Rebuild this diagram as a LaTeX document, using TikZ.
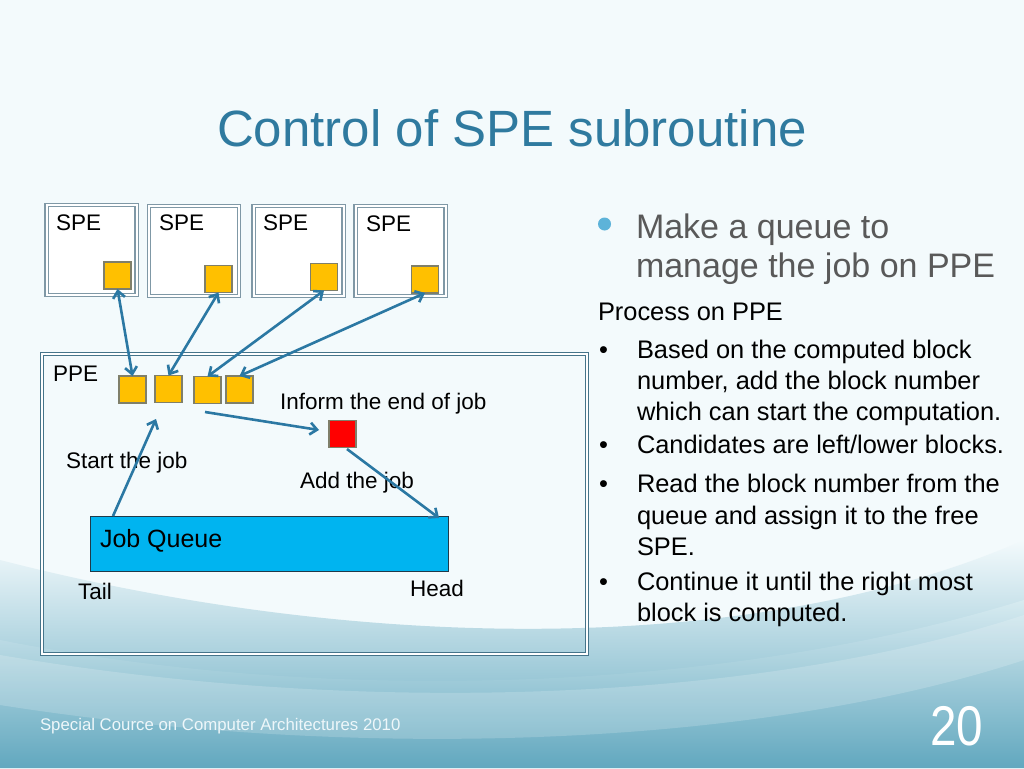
\documentclass[tikz,border=0pt]{standalone}
\usepackage{fontspec}
\setmainfont{Liberation Sans}
\usetikzlibrary{arrows.meta}
\definecolor{bgtop}{HTML}{F3FAFC}
\definecolor{bgmid}{HTML}{DCEEF3}
\definecolor{bgbot}{HTML}{62A8BF}
\definecolor{titleblue}{HTML}{2F7A9F}
\definecolor{arrowblue}{HTML}{2B78A3}
\definecolor{spedge}{HTML}{7F98A6}
\definecolor{ppeedge}{HTML}{45748A}
\definecolor{gold}{HTML}{FFC000}
\definecolor{sqedge}{HTML}{7F7F6A}
\definecolor{queuefill}{HTML}{00B4F0}
\definecolor{queueedge}{HTML}{1F3A4A}
\definecolor{graytext}{HTML}{595959}
\definecolor{dotblue}{HTML}{5DB3D9}
\definecolor{footwhite}{HTML}{EEF7FA}
\begin{document}
\begin{tikzpicture}[x=1pt,y=-1pt,
  every node/.style={inner sep=0pt,outer sep=0pt},
  lbl/.style={anchor=base west,font=\fontsize{22.5}{27}\selectfont},
  body/.style={anchor=base west,font=\fontsize{25.4}{30}\selectfont},
  big/.style={anchor=base west,font=\fontsize{34}{39}\selectfont,text=graytext},
  spebox/.style={draw=spedge,double=white,double distance=2pt,line width=1.1pt,fill=white,minimum width=90pt,minimum height=90pt},
  ppebox/.style={draw=ppeedge,double=white,double distance=1.5pt,line width=0.9pt,minimum width=545pt,minimum height=300pt},
  ysq/.style={draw=sqedge,line width=1.2pt,fill=gold,minimum size=27pt},
  rsq/.style={draw=sqedge,line width=1.2pt,fill=red,minimum size=27pt},
  qbox/.style={draw=queueedge,line width=1pt,fill=queuefill,minimum width=358pt,minimum height=55pt},
  arr/.style={draw=arrowblue,line width=2.6pt,-{Straight Barb[length=7pt,width=12pt]}},
  darr/.style={arr,{Straight Barb[length=7pt,width=12pt]}-{Straight Barb[length=7pt,width=12pt]}}
]
\useasboundingbox (0,0) rectangle (1024,768);
% background
\fill[bgtop] (0,0) rectangle (1024,768);
\shade[top color=bgtop,bottom color=bgbot] (0,560) .. controls (350,650) and (750,660) .. (1024,540) -- (1024,768) -- (0,768) -- cycle;
\shade[top color=bgmid,bottom color=bgbot,opacity=0.7] (0,640) .. controls (300,700) and (700,700) .. (1024,600) -- (1024,768) -- (0,768) -- cycle;
\fill[white,fill opacity=0.18] (0,655) .. controls (350,715) and (750,705) .. (1024,615) -- (1024,660) .. controls (750,750) and (350,760) .. (0,705) -- cycle;

% title
\node[anchor=base,font=\fontsize{51}{60}\selectfont,text=titleblue] (title) at (512,146) {Control of SPE subroutine};

% SPE boxes
\node[spebox] (spe1) at (91.5,250) {};
\node[spebox] (spe2) at (194,251) {};
\node[spebox] (spe3) at (298.5,251) {};
\node[spebox] (spe4) at (400.5,251) {};
\node[lbl] (spe1l) at (56,230) {SPE};
\node[lbl] (spe2l) at (159,230) {SPE};
\node[lbl] (spe3l) at (263,230) {SPE};
\node[lbl] (spe4l) at (366,231) {SPE};
\node[ysq] (s1) at (117.5,275.5) {};
\node[ysq] (s2) at (218.5,279) {};
\node[ysq] (s3) at (324,277) {};
\node[ysq] (s4) at (425,279.5) {};

% PPE box
\node[ppebox] (ppe) at (314.5,504) {};
\node[lbl] (ppel) at (53,381) {PPE};
\node[ysq] (p1) at (132.5,389.5) {};
\node[ysq] (p2) at (168.5,389) {};
\node[ysq] (p3) at (207.5,390) {};
\node[ysq] (p4) at (239.5,389.5) {};
\node[rsq] (r) at (342.5,434) {};
\node[qbox] (q) at (269,543.5) {};
\node[anchor=base west,font=\fontsize{25}{30}\selectfont] (ql) at (100,547) {Job Queue};
\node[lbl] (inf) at (280,409) {Inform the end of job};
\node[lbl] (start) at (66,468) {Start the job};
\node[lbl] (add) at (300,488) {Add the job};
\node[lbl] (tail) at (78,599) {Tail};
\node[lbl] (head) at (410,596) {Head};

% connectors
\draw[darr] (s1.south) -- (p1.north);
\draw[darr] (s2.south) -- (p2.north);
\draw[darr] (s3.south) -- (p3.north);
\draw[darr] (s4.south) -- (p4.north);
\coordinate (infs) at (205,412);
\coordinate (infe) at (319,430);
\draw[arr] (infs) -- (infe);
\coordinate (adds) at (347,449);
\coordinate (adde) at (439,518);
\draw[arr] (adds) -- (adde);
\coordinate (sts) at (113,516);
\coordinate (ste) at (156,419);
\draw[arr] (sts) -- (ste);

% right text
\fill[dotblue] (604.5,224) circle (6.5);
\node[big] (b1) at (636,238) {Make a queue to};
\node[big] (b2) at (636,277) {manage the job on PPE};
\node[body] (proc) at (598,320) {Process on PPE};
\node[body] (d1) at (599,358) {•};
\node[body] (t1a) at (637,358) {Based on the computed block};
\node[body] (t1b) at (637,389) {number, add the block number};
\node[body] (t1c) at (637,420) {which can start the computation.};
\node[body] (d2) at (599,453) {•};
\node[body] (t2a) at (637,453) {Candidates are left/lower blocks.};
\node[body] (d3) at (599,492) {•};
\node[body] (t3a) at (637,492) {Read the block number from the};
\node[body] (t3b) at (637,524) {queue and assign it to the free};
\node[body] (t3c) at (637,555) {SPE.};
\node[body] (d4) at (599,590) {•};
\node[body] (t4a) at (637,590) {Continue it until the right most};
\node[body] (t4b) at (637,621) {block is computed.};

% footer
\node[anchor=base west,font=\fontsize{16.8}{20}\selectfont,text=footwhite] (foot) at (40,730) {Special Cource on Computer Architectures 2010};
\node[anchor=base west,font=\fontsize{56}{60}\selectfont,text=white,xscale=0.85] (num) at (930,745) {20};
\end{tikzpicture}
\end{document}
